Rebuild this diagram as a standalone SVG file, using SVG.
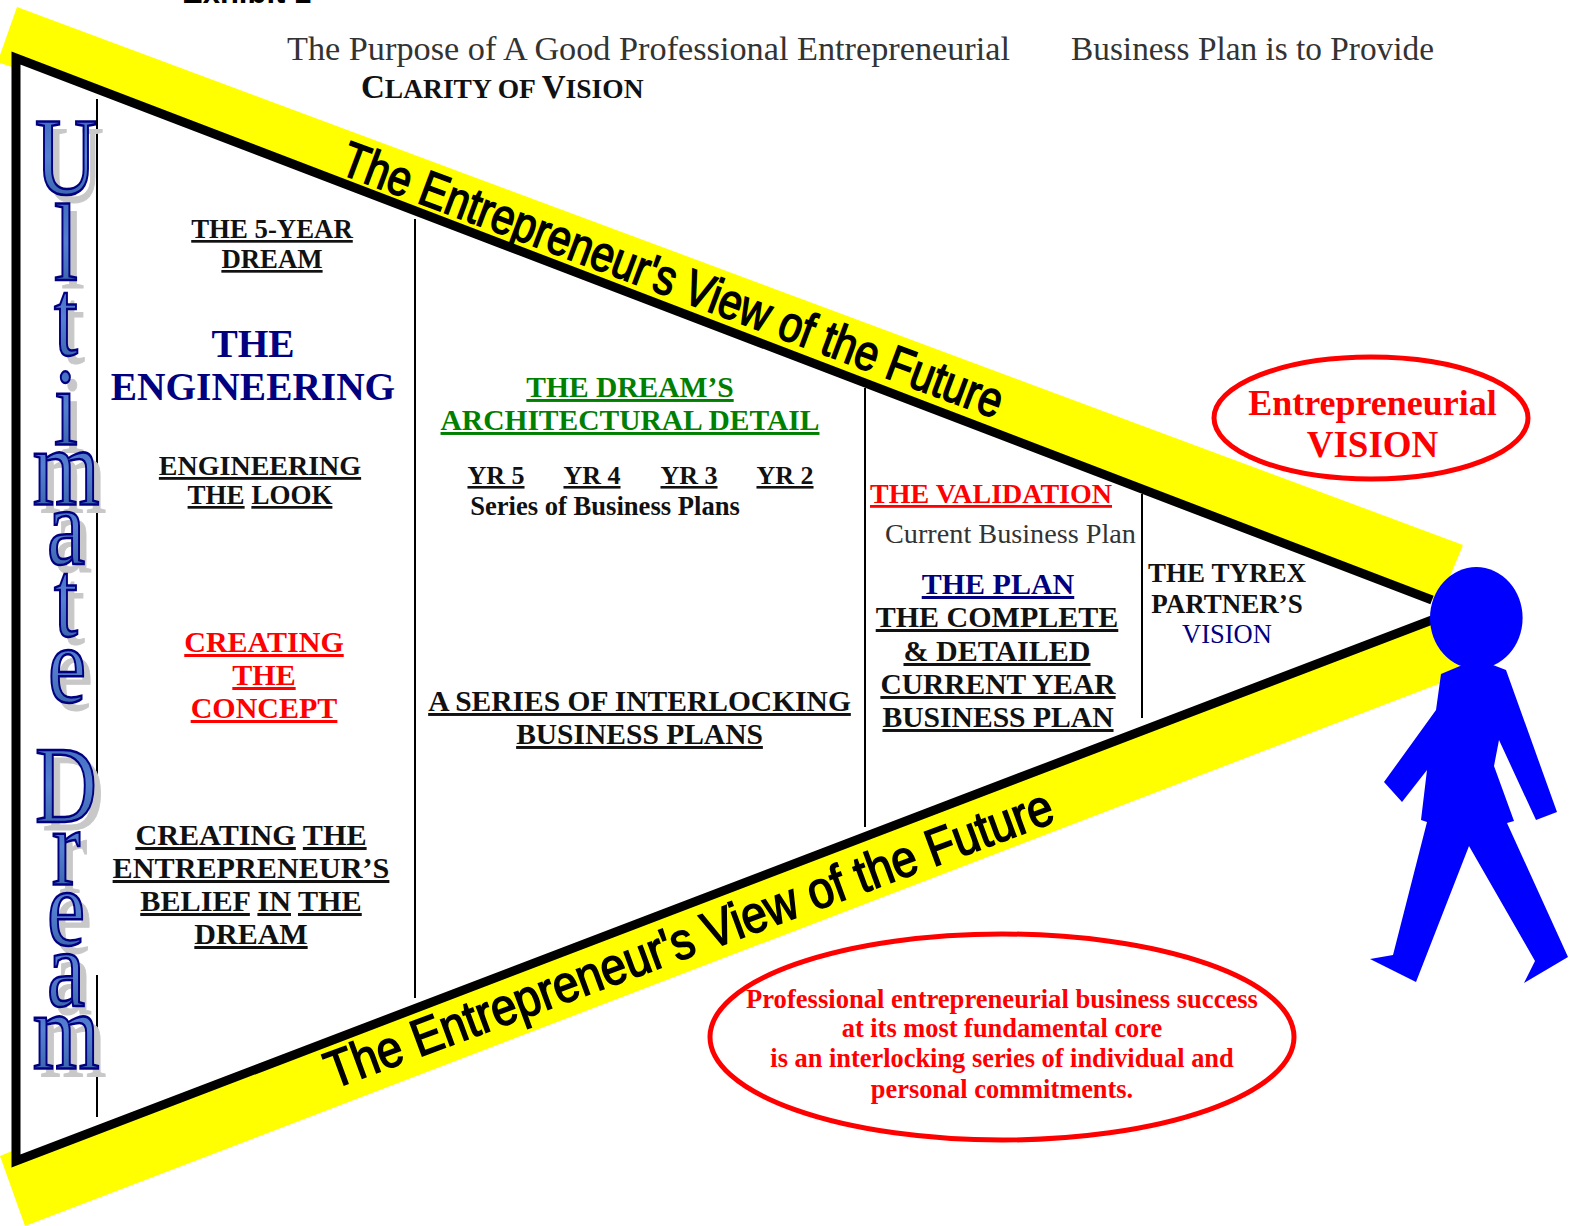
<svg xmlns="http://www.w3.org/2000/svg" width="1581" height="1226" viewBox="0 0 1581 1226">
<defs>
<linearGradient id="lg" x1="0" y1="0" x2="0" y2="1"><stop offset="0" stop-color="#3a66b8"/><stop offset="0.5" stop-color="#5580d0"/><stop offset="1" stop-color="#2f5a9c"/></linearGradient>
<g id="letters">
<text transform="translate(66,194) scale(.78,1)">U</text>
<text transform="translate(66,280) scale(.78,1)">l</text>
<text transform="translate(66,355) scale(.78,1)">t</text>
<text transform="translate(66,444) scale(.78,1)">i</text>
<text transform="translate(66,504) scale(.78,1)">m</text>
<text transform="translate(66,564) scale(.78,1)">a</text>
<text transform="translate(66,636) scale(.78,1)">t</text>
<text transform="translate(67,702) scale(.78,1)">e</text>
<text transform="translate(66,822) scale(.78,1)">D</text>
<text transform="translate(66,884) scale(.78,1)">r</text>
<text transform="translate(66,945) scale(.78,1)">e</text>
<text transform="translate(66,1006) scale(.78,1)">a</text>
<text transform="translate(66,1068) scale(.78,1)">m</text>
</g>
</defs>
<style>
text{font-family:"Liberation Serif","Times New Roman",serif}
.b{font-weight:bold;text-anchor:middle;fill:#111}
.u{text-decoration:underline}
.red{fill:#f00}
.navy{fill:#000080}
.green{fill:#008000}
.band{fill:#ff0}
.div{stroke:#000;stroke-width:2;fill:none}
.fut{font-family:"Liberation Sans",Arial,sans-serif;fill:#000;stroke:#000;stroke-width:1.6}
.title{font-size:34px;fill:#333}
.oval{fill:none;stroke:#f00;stroke-width:5}
.letter{font-size:110px;text-anchor:middle;fill:url(#lg);stroke:#000080;stroke-width:2.500}
.shadow{font-size:110px;text-anchor:middle;fill:#c8c8c8;stroke:#c8c8c8;stroke-width:1}
.person{fill:#00f}
</style>
<g id="bands">
<polygon class="band" points="17,7 1463,545 1440,600 1432,600 16,58 12,67 0,63 0,55"/>
<polygon class="band" points="0,1156 12,1151 12,1165 1432,620 1460,666 1441,683 25,1226"/>
</g>
<g id="connectors">
<polyline points="1432,600 16,58 16,1161 1432,620" fill="none" stroke="#000" stroke-width="9"/>
<path class="div" d="M97 99V775M97 975V1036M97 1075V1117M415 219V998M865 388V827M1142 494V718"/>
</g>
<g id="exhibit"><text x="182" y="3" font-size="31" font-weight="bold" style="font-family:'Liberation Sans',Arial,sans-serif">Exhibit 1</text></g>
<g id="title">
<text class="title" x="287" y="60" textLength="723" lengthAdjust="spacingAndGlyphs">The Purpose of A Good Professional Entrepreneurial</text>
<text class="title" x="1071" y="60" textLength="363" lengthAdjust="spacingAndGlyphs">Business Plan is to Provide</text>
<text x="361" y="98" font-size="27.500" font-weight="bold" fill="#111"><tspan font-size="33">C</tspan>LARITY OF <tspan font-size="33">V</tspan>ISION</text>
</g>
<g id="ultimate-dream">
<use href="#letters" class="shadow" x="7" y="8"/>
<use href="#letters" class="letter"/>
</g>
<g id="view-top"><text class="fut" transform="translate(338,173) rotate(20.5)" font-size="50" textLength="702" lengthAdjust="spacingAndGlyphs">The Entrepreneur's View of the Future</text></g>
<g id="view-bottom"><text class="fut" transform="translate(333,1089) rotate(-20.3)" font-size="52" textLength="772" lengthAdjust="spacingAndGlyphs">The Entrepreneur's View of the Future</text></g>
<g id="col-engineering">
<text class="b u" x="272" y="238" font-size="26.800">THE 5-YEAR</text>
<text class="b u" x="272" y="268" font-size="26.800">DREAM</text>
<text class="b navy" x="253" y="357" font-size="39.400">THE</text>
<text class="b navy" x="253" y="400" font-size="39.400">ENGINEERING</text>
<text class="b u" x="260" y="475" font-size="28">ENGINEERING</text>
<text class="b" x="260" y="504" font-size="27"><tspan class="u">THE</tspan> <tspan class="u">LOOK</tspan></text>
<text class="b u red" x="264" y="652" font-size="30">CREATING</text>
<text class="b u red" x="264" y="685" font-size="30">THE</text>
<text class="b u red" x="264" y="718" font-size="30">CONCEPT</text>
<text class="b" x="251" y="845" font-size="30.200"><tspan class="u">CREATING</tspan> <tspan class="u">THE</tspan></text>
<text class="b u" x="251" y="878" font-size="30.200">ENTREPRENEUR’S</text>
<text class="b" x="251" y="911" font-size="30.200"><tspan class="u">BELIEF</tspan> <tspan class="u">IN</tspan> <tspan class="u">THE</tspan></text>
<text class="b u" x="251" y="944" font-size="30">DREAM</text>
</g>
<g id="col-architecture">
<text class="b u green" x="630" y="397" font-size="29.500">THE DREAM’S</text>
<text class="b u green" x="630" y="430" font-size="29.500">ARCHITECTURAL DETAIL</text>
<text class="b u" x="496" y="484" font-size="26">YR 5</text>
<text class="b u" x="592" y="484" font-size="26">YR 4</text>
<text class="b u" x="689" y="484" font-size="26">YR 3</text>
<text class="b u" x="785" y="484" font-size="26">YR 2</text>
<text class="b" x="605" y="514.500" font-size="26.600">Series of Business Plans</text>
<text class="b u" x="639.500" y="711" font-size="29.500">A SERIES OF INTERLOCKING</text>
<text class="b u" x="639.500" y="744" font-size="29.500">BUSINESS PLANS</text>
</g>
<g id="col-validation">
<text class="b u red" x="991" y="503" font-size="28">THE VALIDATION</text>
<text x="885" y="543" font-size="28" fill="#333" textLength="251" lengthAdjust="spacingAndGlyphs">Current Business Plan</text>
<text class="b u navy" x="998" y="594" font-size="30">THE PLAN</text>
<text class="b u" x="997" y="627" font-size="30">THE COMPLETE</text>
<text class="b u" x="997" y="661" font-size="30">&amp; DETAILED</text>
<text class="b u" x="998" y="694" font-size="29.500">CURRENT YEAR</text>
<text class="b u" x="998" y="727" font-size="29.600">BUSINESS PLAN</text>
</g>
<g id="col-tyrex">
<text class="b" x="1227" y="582" font-size="27">THE TYREX</text>
<text class="b" x="1227" y="613" font-size="27">PARTNER’S</text>
<text x="1227" y="643" font-size="26.500" fill="#000080" text-anchor="middle">VISION</text>
</g>
<g id="person">
<polygon class="person" points="1460,666 1441,674 1436,710 1384,782 1402,802 1427,770 1421,820 1427,822 1393,955 1370,959 1416,982 1469,846 1535,961 1524,983 1568,957 1507,823 1514,821 1494,766 1499,740 1536,820 1557,812 1506,670 1493,665"/>
<ellipse class="person" cx="1476.300" cy="618" rx="46.300" ry="51"/>
</g>
<g id="vision-oval">
<ellipse class="oval" cx="1371" cy="418" rx="157" ry="61"/>
<text class="b red" x="1372.500" y="415" font-size="36">Entrepreneurial</text>
<text class="b red" x="1372.500" y="457" font-size="37">VISION</text>
</g>
<g id="commitment-oval">
<ellipse class="oval" cx="1002" cy="1037" rx="292" ry="103"/>
<text class="b red" x="1002" y="1008" font-size="26.600">Professional entrepreneurial business success</text>
<text class="b red" x="1002" y="1037" font-size="26.400">at its most fundamental core</text>
<text class="b red" x="1002" y="1067" font-size="26.400">is an interlocking series of individual and</text>
<text class="b red" x="1002" y="1098" font-size="26.400">personal commitments.</text>
</g>
</svg>
